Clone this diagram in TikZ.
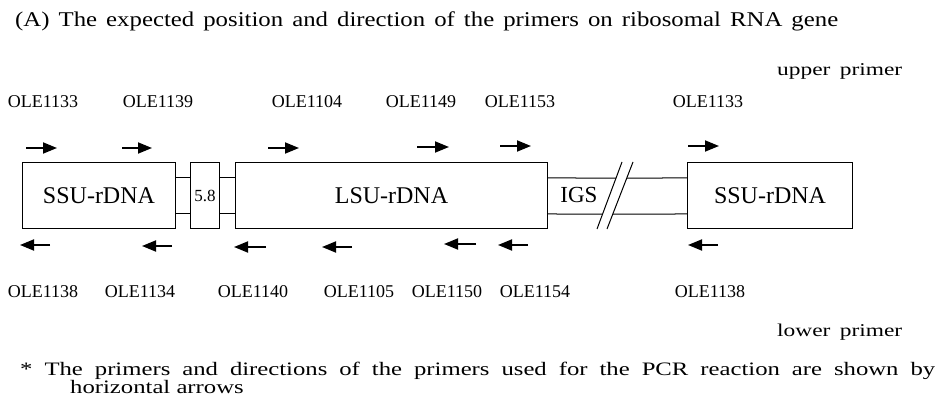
\documentclass[tikz,border=0pt]{standalone}
\usepackage{fontspec}
\setmainfont{Liberation Serif}
\newfontfamily\widefont[FakeStretch=1.3]{Liberation Serif}
\newfontfamily\titlefont[FakeStretch=1.18]{Liberation Serif}
\usetikzlibrary{arrows.meta}
\begin{document}
\begin{tikzpicture}[x=1pt,y=-1pt,
  gene/.style={draw, line width=1pt, minimum height=66pt, inner sep=0pt, anchor=north west,
    font=\fontsize{24}{24}\selectfont},
  lbl/.style={font=\fontsize{18}{18}\selectfont, inner sep=0pt},
  txt/.style={font=\widefont\fontsize{19}{19}\selectfont, inner sep=0pt, anchor=base west},
  prim/.style={line width=1.8pt, -{Triangle[length=14pt,width=11pt]}},
  link/.style={line width=1pt},
]
\useasboundingbox (0,0) rectangle (944,403);

% title and notes
\node[txt, font=\titlefont\fontsize{21}{21}\selectfont] (title) at (15,27) {\makebox[823pt][s]{(A) The expected position and direction of the primers on ribosomal RNA gene}};
\node[txt, font=\widefont\fontsize{18}{18}\selectfont] (upper) at (777,76) {\makebox[125pt][s]{upper primer}};
\node[txt, font=\widefont\fontsize{18}{18}\selectfont] (lower) at (777,336) {\makebox[125pt][s]{lower primer}};
\node[txt] (note1) at (20,375) {\makebox[915pt][s]{* The primers and directions of the primers used for the PCR reaction are shown by}};
\node[txt] (note2) at (70,393) {horizontal arrows};

% gene boxes
\node[gene, minimum width=153pt] (ssuA) at (22,162) {SSU-rDNA};
\node[gene, minimum width=29pt, font=\fontsize{17}{17}\selectfont] (r58) at (190,162) {5.8};
\node[gene, minimum width=312pt] (lsu) at (235,162) {LSU-rDNA};
\node[gene, minimum width=165pt] (ssuB) at (687,162) {SSU-rDNA};

\coordinate (yt) at (0,178);
\coordinate (yb) at (0,214);
\coordinate (ytR) at (944,178);
\coordinate (ybR) at (944,214);
\draw[link] (ssuA.east|-yt) -- (r58.west|-yt);
\draw[link] (ssuA.east|-yb) -- (r58.west|-yb);
\draw[link] (r58.east|-yt) -- (lsu.west|-yt);
\draw[link] (r58.east|-yb) -- (lsu.west|-yb);

% IGS with break
\coordinate (s1a) at (597,229);
\coordinate (s1b) at (622,162);
\coordinate (s2a) at (607,229);
\coordinate (s2b) at (633,162);
\draw[link] (s1a) -- (s1b);
\draw[link] (s2a) -- (s2b);
\draw[link] (lsu.east|-yt) -- (intersection of s1a--s1b and yt--ytR);
\draw[link] (lsu.east|-yb) -- (intersection of s1a--s1b and yb--ybR);
\draw[link] (intersection of s2a--s2b and yt--ytR) -- (ssuB.west|-yt);
\draw[link] (intersection of s2a--s2b and yb--ybR) -- (ssuB.west|-yb);
\node[font=\fontsize{23}{23}\selectfont, inner sep=0pt] (igs) at (579,195) {IGS};

% upper primers
\foreach \n/\a/\b/\y in {u1/26/57/148, u2/122/152/148, u3/268/299/148, u4/417/449/147, u5/500/531/146, u6/688/719/146}{
  \coordinate (\n t) at (\a,\y);
  \coordinate (\n h) at (\b,\y);
  \draw[prim] (\n t) -- (\n h);
}
% lower primers
\foreach \n/\a/\b/\y in {l1/50/20/245, l2/172/142/246, l3/266/234/247, l4/352/322/247, l5/476/444/244, l6/528/498/245, l7/718/688/245}{
  \coordinate (\n t) at (\a,\y);
  \coordinate (\n h) at (\b,\y);
  \draw[prim] (\n t) -- (\n h);
}

% primer names
\node[lbl] (n1) at (43,102) {OLE1133};
\node[lbl] (n2) at (158,102) {OLE1139};
\node[lbl] (n3) at (307,102) {OLE1104};
\node[lbl] (n4) at (421,102) {OLE1149};
\node[lbl] (n5) at (520,102) {OLE1153};
\node[lbl] (n6) at (708,102) {OLE1133};

\node[lbl] (m1) at (43,292) {OLE1138};
\node[lbl] (m2) at (140,292) {OLE1134};
\node[lbl] (m3) at (253,292) {OLE1140};
\node[lbl] (m4) at (359,292) {OLE1105};
\node[lbl] (m5) at (447,292) {OLE1150};
\node[lbl] (m6) at (535,292) {OLE1154};
\node[lbl] (m7) at (710,292) {OLE1138};
\end{tikzpicture}
\end{document}
